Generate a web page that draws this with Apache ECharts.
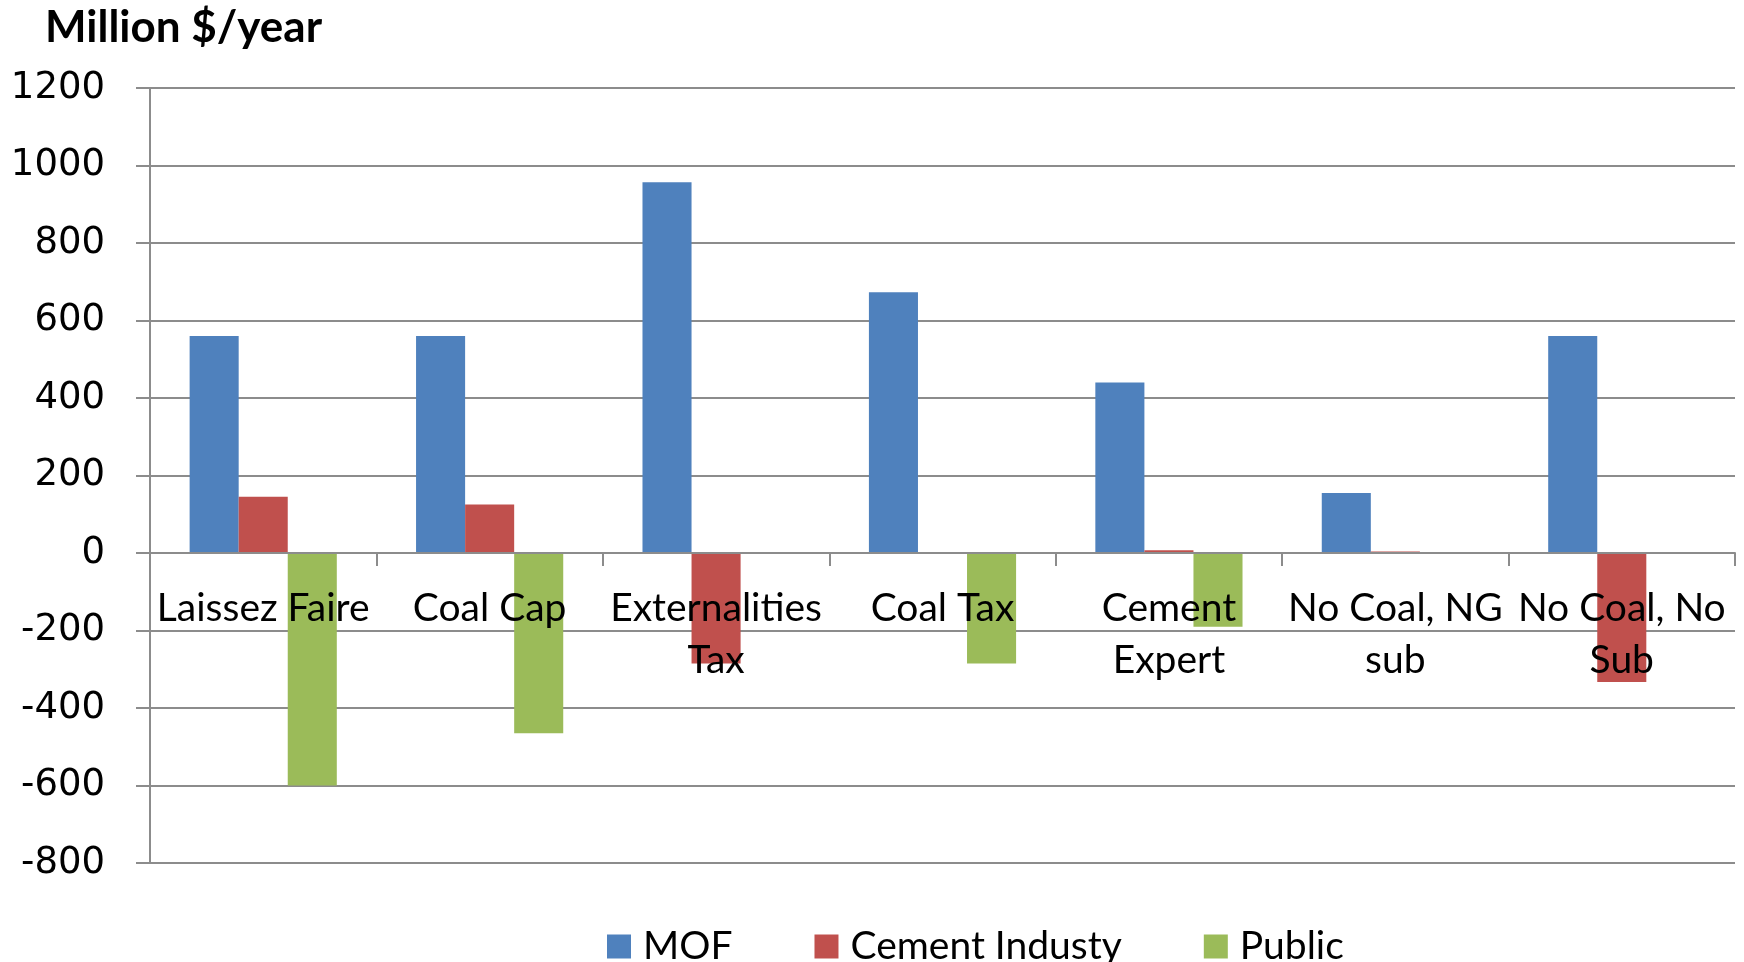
<!DOCTYPE html>
<html>
<head>
<meta charset="utf-8">
<script src="https://cdn.jsdelivr.net/npm/echarts@6/dist/echarts.min.js"></script>
<style>
  html, body { margin: 0; padding: 0; background: #fff; }
  #chart { width: 1744px; height: 962px; }
</style>
</head>
<body>
<div id="chart"></div>
<script>
// Scenario names (line breaks where the axis labels wrap)
const categories = [
  'Laissez Faire',
  'Coal Cap',
  'Externalities\nTax',
  'Coal Tax',
  'Cement\nExpert',
  'No Coal, NG\nsub',
  'No Coal, No\nSub'
];

// Annual value to each party, million $/year
const mofValues    = [560, 560, 957, 673, 440, 155, 560];
const cementValues = [145, 125, -285, 1, 7, 4, -333];
const publicValues = [-600, -465, 0, -285, -190, 0, 0];

const yTicks = { min: -800, max: 1200, interval: 200 };

const gridGray = '#8c8c8c';
const gridTop = 88;
const gridBottom = 99;
const chartHeight = 962;

// Pixel row of the zero line, so the category labels sit just under it
const plotHeight = chartHeight - gridTop - gridBottom;
const zeroY = gridTop + plotHeight * (yTicks.max / (yTicks.max - yTicks.min));
const labelShift = (chartHeight - gridBottom) - zeroY;

const chart = echarts.init(document.getElementById('chart'), null, { renderer: 'canvas' });

chart.setOption({
  backgroundColor: '#ffffff',
  animation: false,
  title: {
    text: 'Million $/year',
    left: 40,
    top: 1,
    textStyle: { fontFamily: 'Lato', fontWeight: 'bold', fontSize: 44, color: '#000' }
  },
  legend: {
    top: 922,
    left: 602,
    itemWidth: 24,
    itemHeight: 24,
    itemGap: 82,
    icon: 'rect',
    textStyle: { fontFamily: 'Lato', fontSize: 39, color: '#000', padding: [0, 0, 0, 7] },
    data: ['MOF', 'Cement Industy', 'Public']
  },
  grid: {
    left: 150, right: 9, top: gridTop, bottom: gridBottom,
    containLabel: false, outerBoundsMode: 'none'
  },
  xAxis: {
    type: 'category',
    data: categories,
    z: 10,
    axisLine: { onZero: true, lineStyle: { color: gridGray, width: 2 } },
    axisTick: { show: true, length: 13, lineStyle: { color: gridGray, width: 2 } },
    axisLabel: {
      margin: 29 - labelShift,
      fontFamily: 'Lato',
      fontSize: 39,
      lineHeight: 52,
      color: '#000',
      interval: 0
    },
    splitLine: { show: false }
  },
  yAxis: {
    type: 'value',
    min: yTicks.min,
    max: yTicks.max,
    interval: yTicks.interval,
    axisLine: { show: true, lineStyle: { color: gridGray, width: 2 } },
    axisTick: { show: true, length: 14, lineStyle: { color: gridGray, width: 2 } },
    axisLabel: {
      margin: 45,
      fontFamily: 'DejaVu Sans',
      fontSize: 37,
      color: '#000',
      formatter: (v) => String(v)
    },
    splitLine: { show: true, lineStyle: { color: gridGray, width: 2 } }
  },
  series: [
    {
      name: 'MOF', type: 'bar', data: mofValues,
      itemStyle: { color: '#4f81bd' },
      barGap: '0%', barCategoryGap: '35%'
    },
    {
      name: 'Cement Industy', type: 'bar', data: cementValues,
      itemStyle: { color: '#c0504d' },
      barGap: '0%', barCategoryGap: '35%'
    },
    {
      name: 'Public', type: 'bar', data: publicValues,
      itemStyle: { color: '#9bbb59' },
      barGap: '0%', barCategoryGap: '35%'
    }
  ]
});
</script>
</body>
</html>
